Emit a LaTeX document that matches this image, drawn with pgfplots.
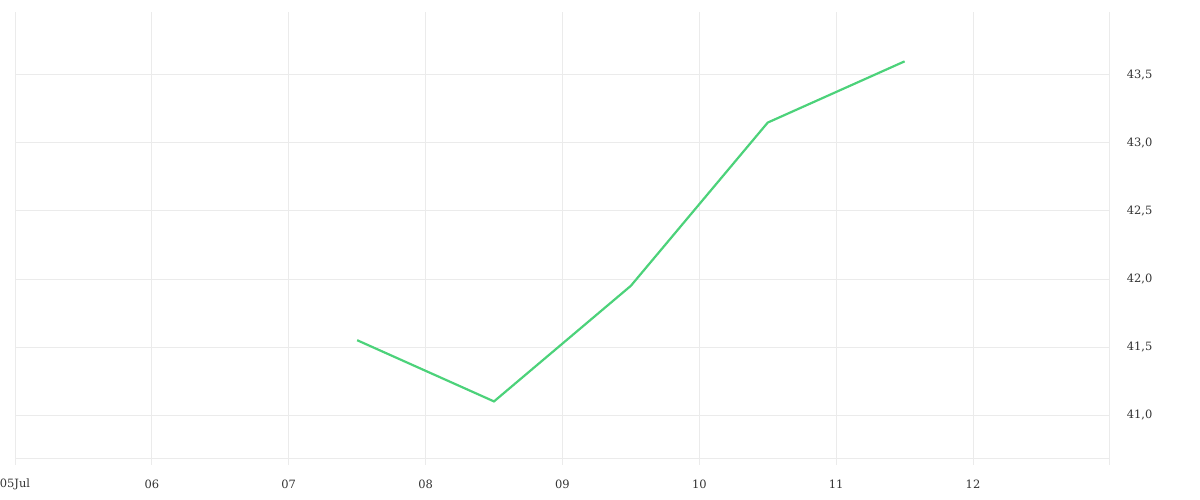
\documentclass[border=0pt]{standalone}
\usepackage{fontspec}
\setmainfont{DejaVu Serif}
\usepackage{pgfplots}
\pgfplotsset{compat=1.18}
\definecolor{gridc}{HTML}{EBEBEB}
\definecolor{linec}{HTML}{4CD27A}
\definecolor{labc}{HTML}{333333}
\begin{document}
\begin{tikzpicture}[x=1bp,y=1bp]
\useasboundingbox (-15bp,-42bp) rectangle (1185bp,458bp);
\begin{axis}[
  at={(0,0)}, anchor=south west,
  scale only axis,
  width=1095bp, height=446bp,
  xmin=5, xmax=13,
  ymin=40.684, ymax=43.963,
  axis x line=bottom, axis y line=right,
  axis line style={-, draw=gridc, line width=1bp},
  grid=major,
  major grid style={draw=gridc, line width=1bp},
  xtick={5,6,7,8,9,10,11,12,13},
  xticklabels={05Jul,06,07,08,09,10,11,12,},
  ytick={41,41.5,42,42.5,43,43.5},
  yticklabels={{41,0},{41,5},{42,0},{42,5},{43,0},{43,5}},
  x tick style={draw=gridc, line width=1bp},
  xtick align=outside,
  major tick length=7bp,
  y tick style={draw=none},
  tick label style={font=\fontsize{11.5}{14}\selectfont, text=labc},
  xticklabel style={anchor=center, yshift=-19bp},
  yticklabel style={anchor=west, xshift=10bp},
  clip=false,
]
\addplot[linec, line width=2.2bp] coordinates {
  (7.5,41.55) (8.5,41.1) (9.5,41.95) (10.5,43.15) (11.5,43.6)
};
\end{axis}
\end{tikzpicture}
\end{document}
